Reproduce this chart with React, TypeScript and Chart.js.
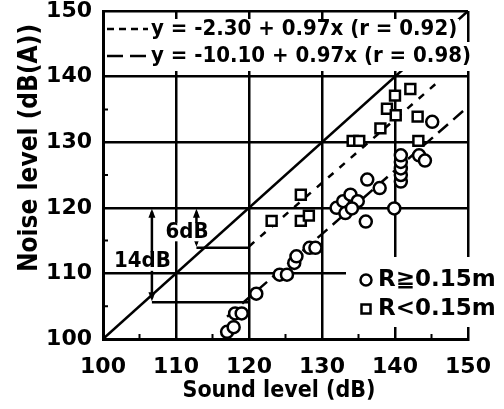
import React, { useEffect, useRef } from "react";
import { Chart, registerables } from "chart.js";

Chart.register(...registerables);

const FONT = "'DejaVu Sans Condensed', 'DejaVu Sans', sans-serif";
const FONT_WIDE = "'DejaVu Sans', sans-serif";

// R >= 0.15 m (circles)
const circleX = [117.0, 117.9, 118.1, 119.0, 121.0, 124.2, 125.2, 126.2, 126.5, 128.3, 129.1, 132.0, 132.9, 133.9, 134.9, 133.2, 134.1, 136.0, 136.2, 137.9, 139.9, 140.8, 140.8, 140.8, 140.8, 140.8, 143.3, 144.1, 145.1];
const circleY = [101.1, 101.8, 103.9, 103.9, 106.9, 109.8, 109.8, 111.6, 112.6, 113.9, 113.9, 120.0, 121.0, 122.0, 121.0, 119.2, 119.9, 117.9, 124.3, 123.0, 119.9, 124.0, 125.0, 126.0, 127.0, 128.0, 128.0, 127.2, 133.1];

// R < 0.15 m (squares)
const squareX = [123.1, 127.1, 128.2, 127.1, 134.2, 135.1, 138.0, 138.9, 140.1, 140.0, 142.1, 143.1, 143.2];
const squareY = [118.0, 118.0, 118.8, 122.0, 130.2, 130.2, 132.1, 135.1, 134.1, 137.1, 138.1, 133.9, 130.2];

// reference lines (endpoints)
const equalX = [100, 150];
const equalY = [100, 150];
const shortDashX = [120, 146];
const shortDashY = [114.1, 139.3];
const longDashX = [117, 150];
const longDashY = [103.4, 135.4];

const xTicks = [100, 110, 120, 130, 140, 150];
const yTicks = [100, 110, 120, 130, 140, 150];

const legendTexts = ["y = -2.30 + 0.97x (r = 0.92)", "y = -10.10 + 0.97x (r = 0.98)"];
const seriesLabels = ["R≧0.15m", "R<0.15m"];
const xTitle = "Sound level (dB)";
const yTitle = "Noise level (dB(A))";

// annotation values
const arrow14 = { x: 106.7, top: 120, bottom: 105.6, label: "14dB", lx: 105.4, ly: 111.8 };
const arrow6 = { x: 112.8, top: 120, bottom: 113.9, label: "6dB", lx: 111.5, ly: 116.3 };
const annotEndX = 120;

const pts = (xs: number[], ys: number[]) => xs.map((x, i) => ({ x, y: ys[i] }));

const annotPlugin = {
  id: "annot",
  afterDraw(chart: any) {
    const ctx = chart.ctx as CanvasRenderingContext2D;
    const xs = chart.scales.x;
    const ys = chart.scales.y;
    const area = chart.chartArea;
    const px = (v: number) => xs.getPixelForValue(v);
    const py = (v: number) => ys.getPixelForValue(v);
    ctx.save();
    ctx.strokeStyle = "#000";
    ctx.fillStyle = "#000";

    // minor inward ticks
    ctx.lineWidth = 2;
    ctx.beginPath();
    for (let v = 105; v < 150; v += 10) {
      ctx.moveTo(px(v), area.bottom);
      ctx.lineTo(px(v), area.bottom - 5);
      ctx.moveTo(area.left, py(v));
      ctx.lineTo(area.left + 5, py(v));
    }
    ctx.stroke();

    // arrows + horizontal lines
    const head = (x: number, y: number, dir: number) => {
      ctx.beginPath();
      ctx.moveTo(x, y);
      ctx.lineTo(x - 3.5, y + dir * 9);
      ctx.lineTo(x + 3.5, y + dir * 9);
      ctx.closePath();
      ctx.fill();
    };
    for (const a of [arrow14, arrow6]) {
      const x = px(a.x);
      const y1 = py(a.top);
      const y2 = py(a.bottom);
      ctx.lineWidth = 2.5;
      ctx.setLineDash([]);
      ctx.beginPath();
      ctx.moveTo(x, y1 + 4);
      ctx.lineTo(x, y2 - 4);
      ctx.stroke();
      head(x, y1 + 1, 1);
      head(x, y2 - 1, -1);
      ctx.beginPath();
      ctx.moveTo(x, y2);
      ctx.lineTo(px(annotEndX), y2);
      ctx.stroke();
    }
    // labels with white boxes
    const boxLabel = (t: string, x: number, y: number, size: number) => {
      ctx.font = `bold ${size}px ${FONT}`;
      const w = ctx.measureText(t).width;
      ctx.fillStyle = "#fff";
      ctx.fillRect(x - w / 2 - 1, y - size * 0.42, w + 2, size * 0.84);
      ctx.fillStyle = "#000";
      ctx.textAlign = "center";
      ctx.textBaseline = "middle";
      ctx.fillText(t, x, y);
    };
    boxLabel(arrow14.label, px(arrow14.lx), py(arrow14.ly), 22);
    boxLabel(arrow6.label, px(arrow6.lx), py(arrow6.ly), 22);

    // top legend
    ctx.font = `bold 22px ${FONT}`;
    ctx.textAlign = "left";
    ctx.textBaseline = "middle";
    const lines = [
      { text: legendTexts[0], dash: [7, 5], y: 29, top: 19, bot: 42 },
      { text: legendTexts[1], dash: [16, 7], y: 56, top: 42, bot: 71 },
    ];
    const textX = 151;
    for (const l of lines) {
      const w = ctx.measureText(l.text).width;
      ctx.fillStyle = "#fff";
      ctx.fillRect(area.left + 2, l.top, textX - area.left + w, l.bot - l.top);
      ctx.strokeStyle = "#000";
      ctx.lineWidth = 2.5;
      ctx.setLineDash(l.dash);
      ctx.beginPath();
      ctx.moveTo(107, l.y);
      ctx.lineTo(148, l.y);
      ctx.stroke();
      ctx.setLineDash([]);
      ctx.fillStyle = "#000";
      ctx.fillText(l.text, textX, l.y);
    }

    // bottom-right legend
    ctx.fillStyle = "#fff";
    ctx.fillRect(346, 257, 158, 70);
    ctx.strokeStyle = "#000";
    ctx.lineWidth = 2.5;
    ctx.beginPath();
    ctx.arc(366, 280, 5.5, 0, Math.PI * 2);
    ctx.stroke();
    ctx.strokeRect(361.5, 304.5, 9, 9);
    ctx.fillStyle = "#000";
    ctx.font = `bold 23px ${FONT_WIDE}`;
    ctx.fillText(seriesLabels[0], 378, 280);
    ctx.fillText(seriesLabels[1], 378, 309);

    // axis titles
    ctx.font = `bold 23px ${FONT}`;
    ctx.textAlign = "center";
    ctx.fillText(xTitle, 279, 391);
    ctx.save();
    ctx.translate(30, 148);
    ctx.rotate(-Math.PI / 2);
    ctx.font = `bold 26px ${FONT}`;
    ctx.fillText(yTitle, 0, 0);
    ctx.restore();

    ctx.restore();
  },
};

export default function App() {
  const ref = useRef<HTMLCanvasElement | null>(null);
  useEffect(() => {
    if (!ref.current) return;
    const lineDs = (xs: number[], ys: number[], dash: number[]) => ({
      data: pts(xs, ys),
      showLine: true,
      borderColor: "#000",
      borderWidth: 2.5,
      borderDash: dash,
      pointRadius: 0,
      fill: false,
    });
    const chart = new Chart(ref.current, {
      type: "scatter",
      data: {
        datasets: [
          {
            label: seriesLabels[0],
            data: pts(circleX, circleY),
            pointStyle: "circle",
            pointRadius: 6,
            borderWidth: 2.5,
            borderColor: "#000",
            backgroundColor: "#fff",
          },
          {
            label: seriesLabels[1],
            data: pts(squareX, squareY),
            pointStyle: "rect",
            pointRadius: 7,
            borderWidth: 2.5,
            borderColor: "#000",
            backgroundColor: "#fff",
          },
          lineDs(equalX, equalY, []),
          lineDs(shortDashX, shortDashY, [7, 8]),
          lineDs(longDashX, longDashY, [13, 7]),
        ] as any,
      },
      options: {
        animation: false,
        responsive: false,
        devicePixelRatio: 1,
        layout: { padding: { top: 11, right: 36, left: 0, bottom: 0 } },
        plugins: { legend: { display: false }, tooltip: { enabled: false } },
        scales: {
          x: {
            type: "linear",
            min: xTicks[0],
            max: xTicks[xTicks.length - 1],
            afterBuildTicks: (s: any) => {
              s.ticks = xTicks.map((v) => ({ value: v }));
            },
            ticks: {
              font: { family: FONT_WIDE, size: 22, weight: "bold" },
              color: "#000",
              padding: 15,
              maxRotation: 0,
            },
            grid: { color: "#000", lineWidth: 2.5, drawTicks: false },
            border: { color: "#000", width: 3 },
            afterFit: (s: any) => {
              s.height = 70;
              s.paddingLeft = 0;
              s.paddingRight = 0;
            },
          },
          y: {
            type: "linear",
            min: yTicks[0],
            max: yTicks[yTicks.length - 1],
            afterBuildTicks: (s: any) => {
              s.ticks = yTicks.map((v) => ({ value: v }));
            },
            ticks: {
              font: { family: FONT_WIDE, size: 22, weight: "bold" },
              color: "#000",
              padding: 11,
            },
            grid: { color: "#000", lineWidth: 2.5, drawTicks: false },
            border: { color: "#000", width: 3 },
            afterFit: (s: any) => {
              s.width = 103;
              s.paddingTop = 0;
              s.paddingBottom = 0;
            },
          },
        },
      } as any,
      plugins: [annotPlugin],
    });
    return () => chart.destroy();
  }, []);
  return (
    <div style={{ position: "fixed", left: 0, top: 0, width: 504, height: 409, background: "#fff" }}>
      <canvas ref={ref} width={504} height={409} style={{ width: 504, height: 409 }} />
    </div>
  );
}
